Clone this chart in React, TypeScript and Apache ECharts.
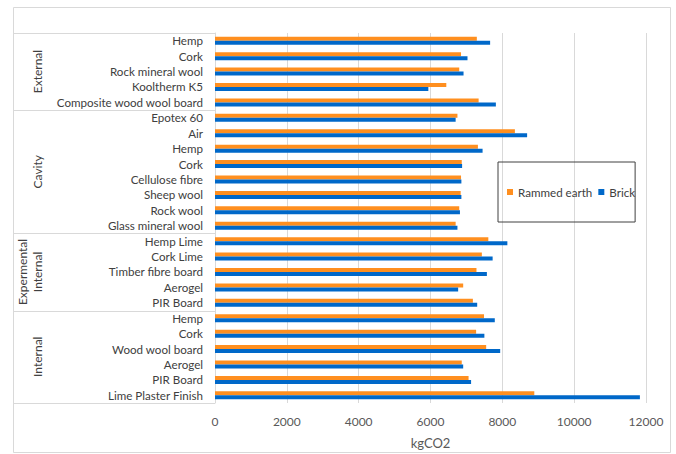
import React, { useEffect, useRef } from "react";
import * as echarts from "echarts";

const groupNames = ["External", "Cavity", "Expermental\nInternal", "Internal"];
const groupSizes = [5, 8, 5, 6];

const categories = [
  "Hemp", "Cork", "Rock mineral wool", "Kooltherm K5", "Composite wood wool board",
  "Epotex 60", "Air", "Hemp", "Cork", "Cellulose fibre", "Sheep wool", "Rock wool", "Glass mineral wool",
  "Hemp Lime", "Cork Lime", "Timber fibre board", "Aerogel", "PIR Board",
  "Hemp", "Cork", "Wood wool board", "Aerogel", "PIR Board", "Lime Plaster Finish",
];

const rammedEarth = [
  7290, 6850, 6800, 6440, 7340,
  6750, 8350, 7320, 6870, 6850, 6840, 6800, 6700,
  7610, 7430, 7280, 6910, 7180,
  7490, 7270, 7550, 6870, 7060, 8890,
];

const brick = [
  7660, 7030, 6920, 5940, 7820,
  6700, 8690, 7450, 6880, 6860, 6860, 6820, 6750,
  8140, 7730, 7570, 6770, 7300,
  7790, 7500, 7940, 6910, 7130, 11830,
];

const xTicks = { min: 0, max: 12000, interval: 2000 };
const seriesNames = ["Rammed earth", "Brick"];

const W = 676;
const H = 454;
const GRID_LEFT = 215;
const GRID_RIGHT = 30;
const GRID_TOP = 33;
const GRID_BOTTOM = 51;
const FONT = "Lato, 'Open Sans', sans-serif";

export default function App() {
  const ref = useRef<HTMLDivElement>(null);

  useEffect(() => {
    if (!ref.current) return;
    const chart = echarts.init(ref.current, null, { renderer: "svg" });

    const plotH = H - GRID_TOP - GRID_BOTTOM;
    const rowH = plotH / categories.length;
    const graphics: any[] = [
      {
        type: "rect",
        shape: { x: 13.5, y: 7.5, width: 657, height: 445 },
        style: { fill: "none", stroke: "#d9d9d9", lineWidth: 1 },
        silent: true,
      },
    ];
    let acc = 0;
    const bounds = [0];
    groupSizes.forEach((s) => {
      acc += s;
      bounds.push(acc);
    });
    bounds.forEach((b) => {
      const y = Math.round(GRID_TOP + b * rowH) + 0.5;
      graphics.push({
        type: "line",
        shape: { x1: 13, y1: y, x2: GRID_LEFT, y2: y },
        style: { stroke: "#d9d9d9", lineWidth: 1 },
        silent: true,
      });
    });
    groupNames.forEach((name, i) => {
      const cy = GRID_TOP + ((bounds[i] + bounds[i + 1]) / 2) * rowH;
      const twoLine = name.includes("\n");
      graphics.push({
        type: "text",
        x: twoLine ? 30 : 37,
        y: cy,
        rotation: Math.PI / 2,
        style: {
          text: name,
          fill: "#404040",
          font: `12px ${FONT}`,
          align: "center",
          verticalAlign: "middle",
          lineHeight: 15,
        },
        silent: true,
      });
    });

    chart.setOption({
      animation: false,
      backgroundColor: "#ffffff",
      textStyle: { fontFamily: FONT },
      grid: { left: GRID_LEFT, right: GRID_RIGHT, top: GRID_TOP, bottom: GRID_BOTTOM, containLabel: false },
      legend: {
        data: seriesNames,
        left: 498,
        top: 162,
        orient: "horizontal",
        icon: "rect",
        itemWidth: 6,
        itemHeight: 6,
        itemGap: 6,
        padding: [24, 0, 24, 9],
        borderColor: "#404040",
        borderWidth: 1,
        textStyle: { fontSize: 11.6, color: "#404040", fontFamily: FONT },
      },
      xAxis: {
        type: "value",
        min: xTicks.min,
        max: xTicks.max,
        interval: xTicks.interval,
        axisLine: { show: false },
        axisTick: { show: false },
        splitLine: { show: true, lineStyle: { color: "#d9d9d9", width: 1 } },
        axisLabel: {
          color: "#595959",
          fontSize: 12,
          margin: 12,
          fontFamily: FONT,
          formatter: (v: number) => String(v),
        },
        name: "kgCO2",
        nameLocation: "middle",
        nameGap: 33,
        nameTextStyle: { color: "#595959", fontSize: 13, fontFamily: FONT },
      },
      yAxis: {
        type: "category",
        inverse: true,
        data: categories,
        axisLine: { show: true, lineStyle: { color: "#d9d9d9", width: 1 } },
        axisTick: { show: false },
        splitLine: { show: false },
        axisLabel: { color: "#404040", fontSize: 11.6, margin: 12, fontFamily: FONT, interval: 0 },
      },
      graphic: graphics,
      series: [
        {
          name: seriesNames[0],
          type: "bar",
          data: rammedEarth,
          barWidth: 4,
          barGap: "0%",
          itemStyle: { color: "#FF8F1F" },
        },
        {
          name: seriesNames[1],
          type: "bar",
          data: brick,
          barWidth: 4,
          barGap: "0%",
          itemStyle: { color: "#0068C9" },
        },
      ],
    });

    return () => chart.dispose();
  }, []);

  return (
    <div
      ref={ref}
      style={{ position: "absolute", left: 0, top: 0, width: W, height: H, background: "#fff" }}
    />
  );
}
